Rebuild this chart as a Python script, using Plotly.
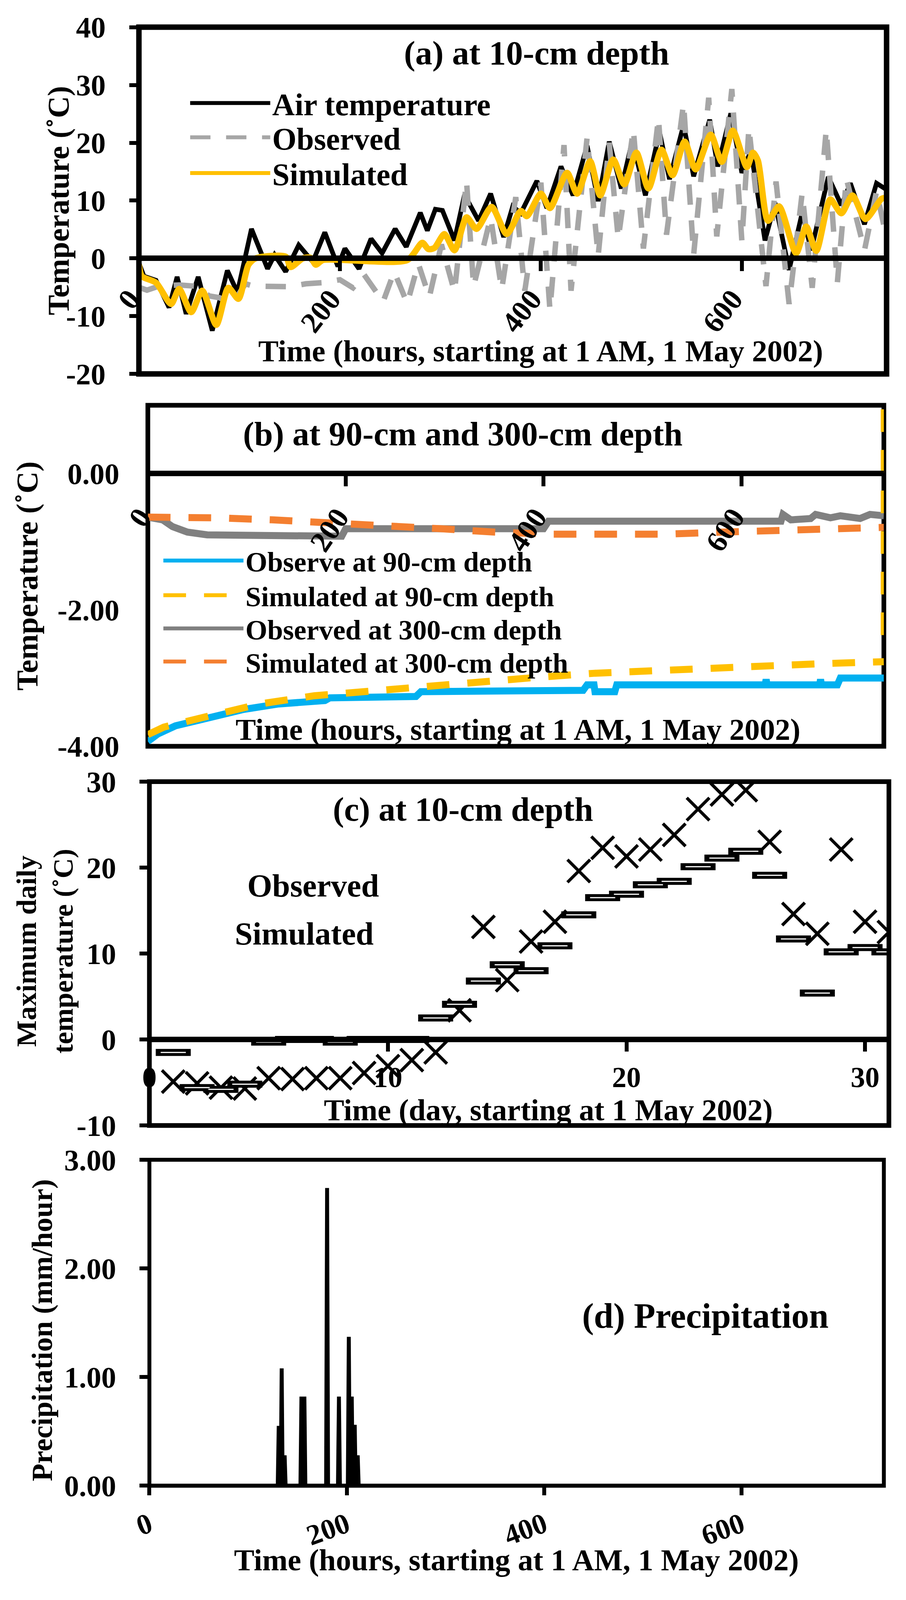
import numpy as np
import plotly.graph_objects as go

# ---- data ----
# (a) hourly temperature at 10-cm depth, local extremes (hour, degC)
air_hours = [0, 5, 17, 30, 38, 47, 59, 73, 88, 98, 112, 119, 128, 135, 146, 159, 173, 185,
             198, 205, 219, 231, 242, 255, 266, 280, 287, 295, 302, 314, 324, 338, 350, 363,
             372, 380, 396, 406, 420, 432, 446, 457, 468, 480, 491, 504, 518, 528, 542, 552,
             568, 576, 589, 600, 609, 623, 633, 647, 660, 669, 686, 699, 708, 722, 734, 744]
air_temp = [-0.8, -3.1, -3.8, -8.5, -3.2, -9.6, -3.2, -12.5, -2.1, -5.9, 5.1, 2.3, -1.8, 0.6,
            -2.3, 2.3, -0.6, 4.5, -1.4, 1.7, -1.8, 3.4, 0.9, 5.1, 2.0, 7.9, 4.8, 8.5, 8.3, 3.1,
            11.0, 6.5, 11.2, 3.7, 9.0, 7.8, 13.4, 8.7, 15.9, 10.9, 19.5, 9.9, 20.2, 12.1, 20.4,
            10.9, 21.9, 13.7, 23.1, 14.2, 24.0, 15.9, 25.1, 14.8, 18.6, 3.1, 9.6, -2.0, 7.9,
            1.4, 14.1, 9.2, 13.0, 5.9, 13.0, 11.9]

obs_hours = [0, 8, 20, 40, 55, 70, 80, 93, 106, 114, 150, 166, 183, 200, 213, 224, 243, 254,
             267, 278, 289, 301, 314, 326, 333, 350, 361, 375, 384, 400, 409, 423, 430, 446,
             457, 468, 477, 492, 502, 517, 525, 542, 552, 567, 575, 590, 600, 607, 624, 634,
             647, 660, 670, 684, 695, 704, 722, 734, 744]
obs_temp = [-5.0, -5.5, -4.8, -4.6, -4.8, -6.5, -6.8, -7.9, -4.4, -4.8, -4.9, -4.4, -4.2, -3.7,
            -5.1, -2.8, -7.5, -2.3, -7.8, -0.9, -6.7, 2.4, -5.8, 13.4, -4.9, 7.1, -5.4, 10.6,
            -5.6, 13.1, -8.9, 19.6, -5.6, 20.9, 0.4, 20.0, 3.4, 22.3, 1.7, 24.3, 4.1, 26.8, 0.6,
            27.8, 3.8, 29.3, 3.0, 22.6, -4.8, 13.3, -7.9, 11.3, -5.1, 22.3, -4.2, 13.8, 1.4,
            11.6, 3.5]

sim_hours = [0, 3, 17, 32, 40, 52, 63, 77, 89, 99, 109, 116, 146, 151, 163, 171, 176, 183,
             267, 282, 288, 294, 304, 314, 326, 336, 351, 366, 380, 386, 400, 409, 426, 436,
             449, 459, 472, 483, 495, 507, 520, 531, 543, 554, 569, 580, 591, 605, 611, 616,
             626, 637, 654, 664, 674, 688, 699, 710, 723, 739, 744]
sim_temp = [-1.1, -3.1, -4.2, -7.9, -5.3, -9.3, -5.6, -11.5, -5.1, -7.0, -1.1, 0.0, 0.3, -1.5,
            0.0, 0.1, -1.1, -0.3, -0.3, 2.7, 1.6, 1.8, 4.2, 1.4, 7.1, 5.1, 8.9, 4.2, 8.2, 7.3,
            11.2, 8.7, 14.8, 11.2, 16.8, 10.9, 17.1, 12.8, 18.3, 12.1, 18.8, 14.4, 20.2, 15.4,
            21.4, 16.7, 22.1, 15.8, 18.3, 16.9, 6.5, 9.0, 0.9, 5.5, 1.3, 10.2, 7.8, 10.9, 6.8,
            10.3, 10.5]

# (b) 90-cm and 300-cm depth
obs90_hours = [0, 10, 28, 57, 97, 132, 179, 184, 271, 276, 440, 444, 451, 452, 472, 474, 624,
               625, 626, 679, 680, 681, 697, 700, 744]
obs90_temp = [-3.93, -3.82, -3.70, -3.59, -3.46, -3.38, -3.33, -3.29, -3.27, -3.20, -3.18,
              -3.10, -3.10, -3.20, -3.20, -3.10, -3.10, -3.02, -3.10, -3.10, -3.02, -3.10,
              -3.10, -3.00, -3.00]
sim90_hours = [0, 16, 58, 113, 168, 225, 280, 338, 393, 451, 508, 563, 622, 679, 744]
sim90_temp = [-3.83, -3.72, -3.57, -3.38, -3.26, -3.19, -3.11, -3.05, -2.99, -2.93, -2.89,
              -2.86, -2.83, -2.79, -2.76]
sim90_edge_hours = [744, 744]
sim90_edge_temp = [-2.37, 1.0]
obs300_hours = [0, 15, 25, 40, 60, 100, 150, 196, 200, 400, 405, 640, 642, 650, 670, 675,
                690, 700, 720, 730, 744]
obs300_temp = [-0.64, -0.68, -0.78, -0.86, -0.90, -0.91, -0.92, -0.92, -0.81, -0.81, -0.70,
               -0.70, -0.60, -0.68, -0.66, -0.60, -0.65, -0.62, -0.66, -0.60, -0.62]
sim300_hours = [0, 13, 70, 126, 184, 240, 296, 351, 409, 467, 522, 580, 638, 693, 744]
sim300_temp = [-0.64, -0.64, -0.65, -0.68, -0.72, -0.75, -0.81, -0.86, -0.89, -0.89, -0.89,
               -0.86, -0.84, -0.82, -0.79]

# (c) maximum daily temperature at 10-cm depth
days = list(range(1, 32))
max_obs = [-4.9, -5.1, -5.6, -5.7, -4.5, -4.6, -4.5, -4.5, -3.9, -3.1, -2.4, -1.5, 3.4, 13.1,
           6.9, 11.4, 13.7, 19.6, 22.3, 21.3, 22.1, 23.8, 26.8, 28.5, 29.0, 23.0, 14.6, 12.3,
           22.1, 13.7, 12.5]
max_sim = [-1.5, -5.6, -5.8, -5.2, -0.3, 0.0, 0.0, -0.3, 0.0, 0.0, 0.0, 2.5, 4.1, 6.8, 8.7,
           8.0, 10.9, 14.5, 16.5, 16.9, 18.0, 18.4, 20.1, 21.1, 21.9, 19.1, 11.7, 5.4, 10.2,
           10.7, 10.2]

# (d) precipitation, non-zero hours (mm/hour)
rain_hours = [131, 134, 137, 154, 157, 180, 192, 202, 205, 208, 211]
rain_mm = [0.55, 1.08, 0.28, 0.82, 0.82, 2.74, 0.82, 1.37, 0.82, 0.56, 0.28]
precip = np.zeros(745)
precip[rain_hours] = rain_mm

hour_ticks = [0, 200, 400, 600]
hour_labels = ["0", "200", "400", "600"]
day_ticks = [0, 10, 20, 30]
day_labels = ["0", "10", "20", "30"]
ya_ticks = [-20, -10, 0, 10, 20, 30, 40]
ya_labels = ["-20", "-10", "0", "10", "20", "30", "40"]
yb_ticks = [-4, -2, 0]
yb_labels = ["-4.00", "-2.00", "0.00"]
yc_ticks = [-10, 0, 10, 20, 30]
yc_labels = ["-10", "0", "10", "20", "30"]
yd_ticks = [0, 1, 2, 3]
yd_labels = ["0.00", "1.00", "2.00", "3.00"]

# reference picture size (positions below are measured in it) and the page size used
RW, RH = 2319, 4328
W, H = 2303, 4040
SERIF = "Liberation Serif"


def fx(px):
    return px / RW


def fy(px):
    return 1 - px / RH


def zero_pos(dom, rng):
    return dom[0] + (0 - rng[0]) / (rng[1] - rng[0]) * (dom[1] - dom[0])


def bold(size):
    return dict(family=SERIF, size=size, color="black", weight="bold")


fig = go.Figure()

# (a)
fig.add_trace(go.Scatter(x=air_hours, y=air_temp, name="Air temperature", mode="lines",
                         line=dict(color="black", width=12), legend="legend",
                         xaxis="x", yaxis="y"))
fig.add_trace(go.Scatter(x=obs_hours, y=obs_temp, name="Observed", mode="lines",
                         line=dict(color="#A6A6A6", width=14, dash="52px,40px"),
                         legend="legend2", xaxis="x", yaxis="y"))
fig.add_trace(go.Scatter(x=sim_hours, y=sim_temp, name="Simulated", mode="lines",
                         line=dict(color="#FFC000", width=16, shape="spline", smoothing=0.7),
                         legend="legend3", xaxis="x", yaxis="y"))

# (b)
fig.add_trace(go.Scatter(x=obs90_hours, y=obs90_temp, name="Observe at 90-cm depth",
                         mode="lines", line=dict(color="#00B0F0", width=18),
                         legend="legend4", xaxis="x2", yaxis="y2"))
fig.add_trace(go.Scatter(x=sim90_hours, y=sim90_temp, name="Simulated at 90-cm depth",
                         mode="lines", line=dict(color="#FFC000", width=18, dash="58px,46px"),
                         legend="legend5", xaxis="x2", yaxis="y2"))
fig.add_trace(go.Scatter(x=obs300_hours, y=obs300_temp, name="Observed at 300-cm depth",
                         mode="lines", line=dict(color="#808080", width=18),
                         legend="legend6", xaxis="x2", yaxis="y2"))
fig.add_trace(go.Scatter(x=sim300_hours, y=sim300_temp, name="Simulated at 300-cm depth",
                         mode="lines", line=dict(color="#F47F30", width=18, dash="58px,46px"),
                         legend="legend7", xaxis="x2", yaxis="y2"))
fig.add_trace(go.Scatter(x=sim90_edge_hours, y=sim90_edge_temp, mode="lines", showlegend=False,
                         line=dict(color="#FFC000", width=16, dash="58px,46px"),
                         xaxis="x2", yaxis="y2"))

# (c)
fig.add_trace(go.Scatter(x=days, y=max_obs, mode="markers", showlegend=False,
                         marker=dict(symbol="x-thin", size=58,
                                     line=dict(color="black", width=8)),
                         xaxis="x3", yaxis="y3"))
fig.add_trace(go.Scatter(x=days, y=max_sim, mode="markers", showlegend=False,
                         marker=dict(symbol="line-ew", size=64,
                                     line=dict(color="black", width=18)),
                         xaxis="x3", yaxis="y3"))
fig.add_trace(go.Scatter(x=days, y=max_sim, mode="markers", showlegend=False,
                         marker=dict(symbol="line-ew", size=46,
                                     line=dict(color="white", width=3)),
                         xaxis="x3", yaxis="y3"))

# (d)
fig.add_trace(go.Scatter(x=np.arange(745), y=precip, mode="lines", showlegend=False,
                         line=dict(color="black", width=10), xaxis="x4", yaxis="y4"))

# ---- axes ----
dom_a = ([fx(350), fx(2277)], [fy(1017), fy(66)])
dom_b = ([fx(373), fx(2270)], [fy(2038), fy(1103)])
dom_c = ([fx(377), fx(2283)], [fy(3078), fy(2135)])
dom_d = ([fx(377), fx(2270)], [fy(4066), fy(3172)])

common_x = dict(showgrid=False, zeroline=False, automargin=False, tickcolor="black",
                tickwidth=10, linecolor="black")
common_y = dict(showgrid=False, zeroline=False, automargin=False, tickfont=bold(76),
                tickcolor="black", tickwidth=10, showline=False)

fig.update_layout(
    xaxis=dict(domain=dom_a[0], range=[0, 744], anchor="free",
               position=zero_pos(dom_a[1], [-20, 40]), tickvals=hour_ticks,
               ticktext=hour_labels, ticks="outside", ticklen=26, tickangle=-52,
               tickfont=bold(76), showline=True, linewidth=14, ticklabelstandoff=-4,
               ticklabelshift=-24, **common_x),
    yaxis=dict(domain=dom_a[1], range=[-20, 40], anchor="x", tickvals=ya_ticks,
               ticktext=ya_labels, ticks="outside", ticklen=24, ticklabelstandoff=45,
               **common_y),
    xaxis2=dict(domain=dom_b[0], range=[0, 744], anchor="free",
                position=zero_pos(dom_b[1], [-4, 1]), tickvals=hour_ticks,
                ticktext=hour_labels, ticks="outside", ticklen=26, tickangle=-56,
                tickfont=bold(76), showline=True, linewidth=14, ticklabelstandoff=4,
                ticklabelshift=-20, **common_x),
    yaxis2=dict(domain=dom_b[1], range=[-4, 1], anchor="x2", tickvals=yb_ticks,
                ticktext=yb_labels, ticks="", ticklabelstandoff=72, **common_y),
    xaxis3=dict(domain=dom_c[0], range=[0, 31], anchor="free",
                position=zero_pos(dom_c[1], [-10, 30]), tickvals=day_ticks,
                ticktext=day_labels, ticks="outside", ticklen=24, tickangle=0,
                tickfont=bold(74), showline=True, linewidth=14, ticklabelstandoff=2,
                **common_x),
    yaxis3=dict(domain=dom_c[1], range=[-10, 30], anchor="x3", tickvals=yc_ticks,
                ticktext=yc_labels, ticks="outside", ticklen=24, ticklabelstandoff=45,
                **common_y),
    xaxis4=dict(domain=dom_d[0], range=[0, 744], anchor="y4", tickvals=hour_ticks,
                ticktext=hour_labels, ticks="outside", ticklen=24, tickangle=-20,
                tickfont=bold(74), showline=False, ticklabelstandoff=4, **common_x),
    yaxis4=dict(domain=dom_d[1], range=[0, 3], anchor="x4", tickvals=yd_ticks,
                ticktext=yd_labels, ticks="outside", ticklen=24, ticklabelstandoff=45,
                **common_y),
)

# plot-area frames
for xr, yr, lw, layer in [("x", "y", 14, "above"), ("x2", "y2", 12, "below"),
                          ("x3", "y3", 12, "above"), ("x4", "y4", 10, "above")]:
    fig.add_shape(type="rect", xref=xr + " domain", yref=yr + " domain",
                  x0=0, x1=1, y0=0, y1=1, line=dict(color="black", width=lw),
                  fillcolor="rgba(0,0,0,0)", layer=layer)

# ---- text ----
def label(text, x, y, size, angle=0):
    fig.add_annotation(text=text, x=x, y=y, xref="paper", yref="paper", showarrow=False,
                       xanchor="center", yanchor="middle", textangle=angle, font=bold(size))


label("(a) at 10-cm depth", fx(1375), fy(137), 87)
label("(b) at 90-cm and 300-cm depth", fx(1185), fy(1182), 86)
label("(c) at 10-cm depth", fx(1185), fy(2211), 86)
label("(d) Precipitation", fx(1810), fy(3601), 90)

label("Time (hours, starting at 1 AM, 1 May 2002)", fx(1386), fy(954), 78)
label("Time (hours, starting at 1 AM, 1 May 2002)", fx(1327), fy(1992), 78)
label("Time (day, starting at 1 May 2002)", fx(1405), fy(3035), 78)
label("Time (hours, starting at 1 AM, 1 May 2002)", fx(1323), fy(4270), 78)

label("Observed", fx(799), fy(2421), 82)
label("Simulated", fx(776), fy(2552), 82)

label("Temperature (˚C)", fx(143), fy(542), 78, -90)
label("Temperature (˚C)", fx(62), fy(1571), 78, -90)
label("Maximum daily<br>temperature (˚C)", fx(108), fy(2600), 72, -90)
label("Precipitation (mm/hour)", fx(100), fy(3640), 74, -90)

# one legend box per entry so each row sits where the reference has it
legend_rows = {
    "legend": (477, 274, 80), "legend2": (477, 368, 80), "legend3": (477, 466, 80),
    "legend4": (408, 1529, 72), "legend5": (408, 1624, 72), "legend6": (408, 1715, 72),
    "legend7": (408, 1806, 72),
}
legend_layout = {
    key: dict(x=fx(lx), y=fy(ly), xanchor="left", yanchor="middle", font=bold(size),
              bgcolor="rgba(0,0,0,0)", itemwidth=205)
    for key, (lx, ly, size) in legend_rows.items()
}

fig.update_layout(
    width=W, height=H, autosize=False,
    margin=dict(l=0, r=0, t=0, b=0),
    paper_bgcolor="white", plot_bgcolor="white",
    **legend_layout,
)

fig.write_html("out.html")
